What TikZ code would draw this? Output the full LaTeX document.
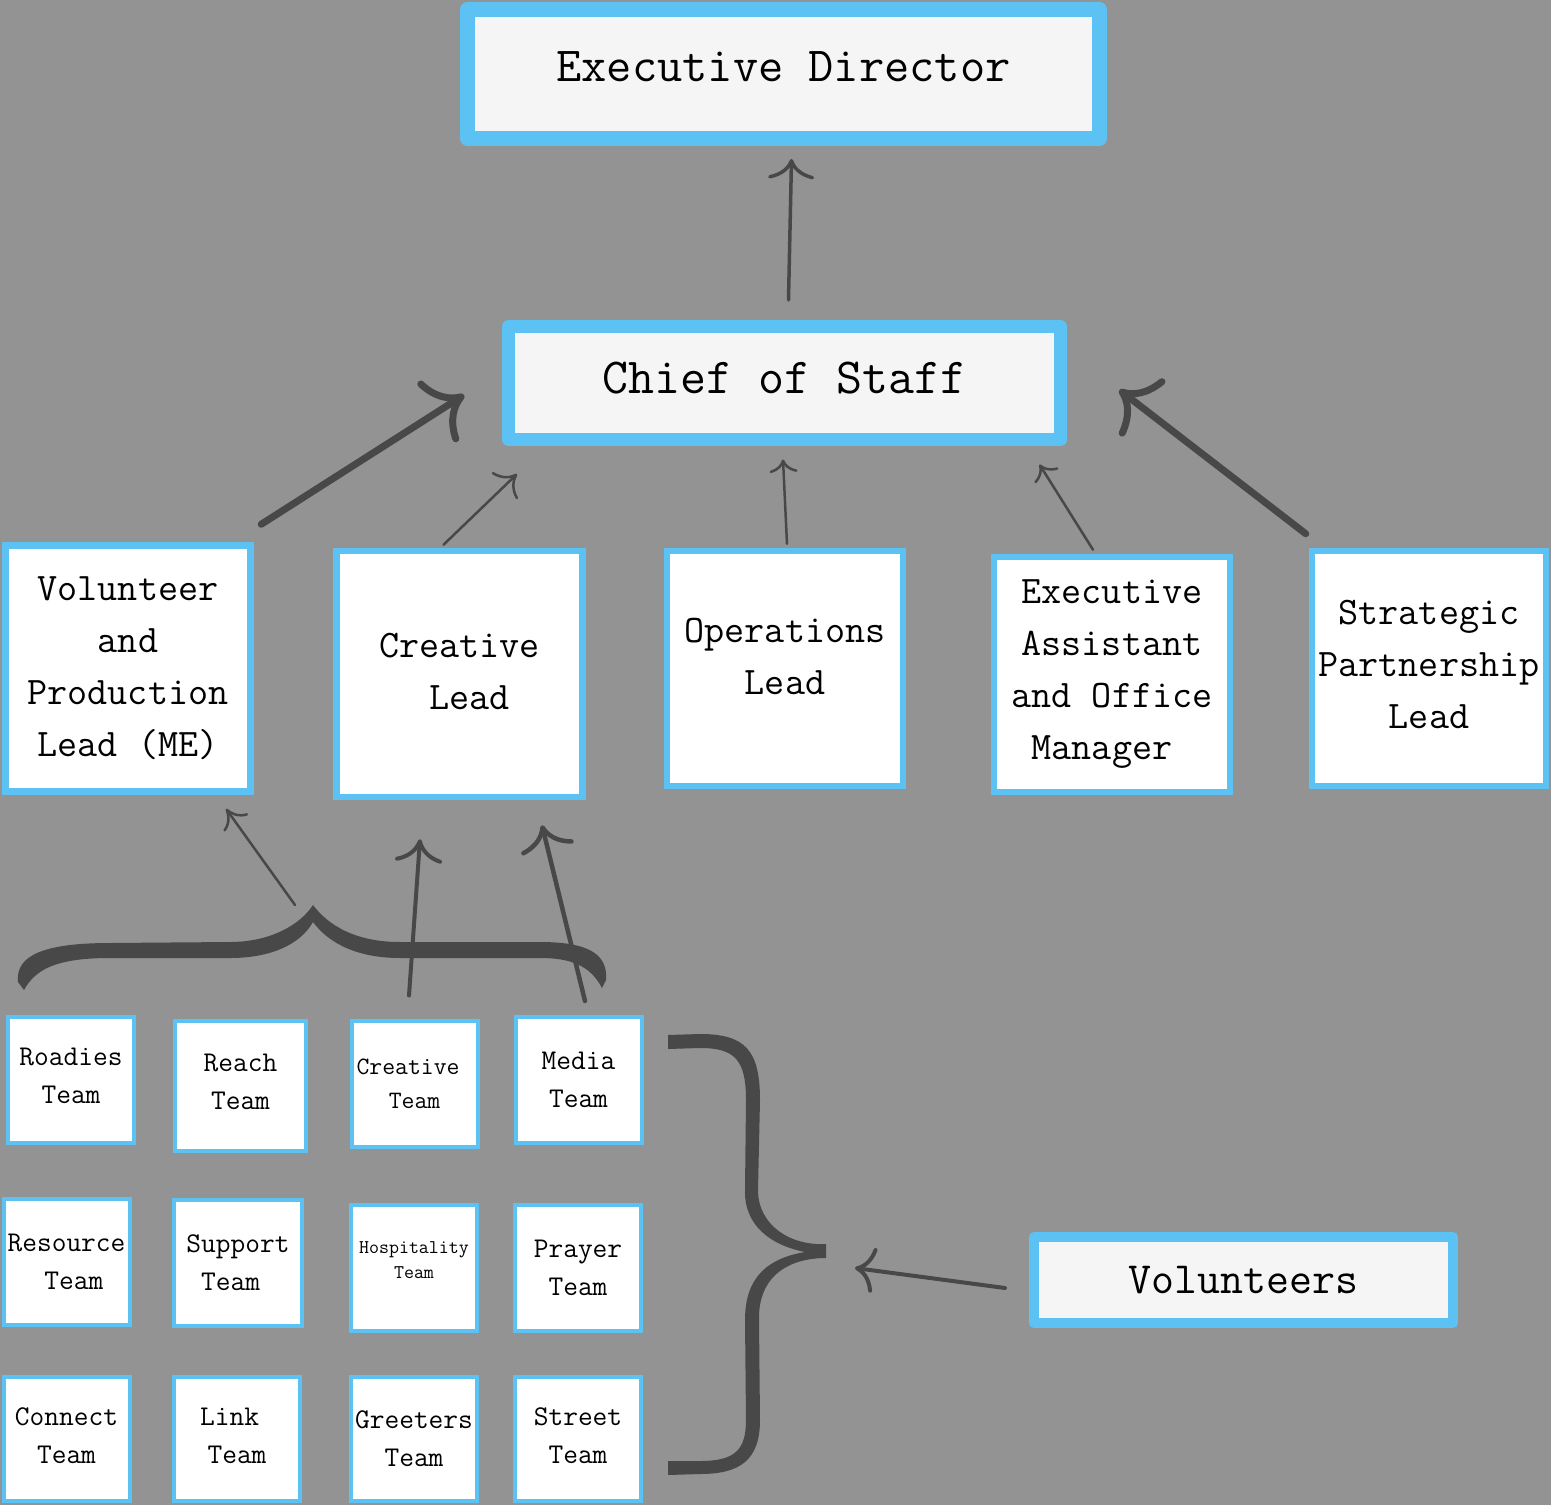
\documentclass[tikz,border=0pt]{standalone}
\usepackage{fontspec}
\usepackage{tikz}
\usetikzlibrary{arrows.meta}
\definecolor{bggray}{RGB}{147,147,147}
\definecolor{skyline}{RGB}{91,194,243}
\definecolor{paper}{RGB}{245,245,245}
\definecolor{ink}{RGB}{72,72,72}
\newcommand{\chartfont}[2]{\ttfamily\addfontfeature{FakeBold=0.6}\fontsize{#1}{#2}\selectfont}

\begin{document}
\begin{tikzpicture}[x=1pt,y=-1pt,
    topbox/.style={draw=skyline, fill=paper, line join=round, inner sep=0pt, font=\chartfont{49}{60}},
    leadbox/.style={draw=skyline, fill=white, line width=6.5pt, inner sep=0pt, align=center, minimum width=236pt, minimum height=235pt, font=\chartfont{39}{52}},
    teambox/.style={draw=skyline, fill=white, line width=4pt, inner sep=0pt, align=center, minimum width=126pt, minimum height=126pt, font=\chartfont{28.6}{38}},
    link/.style={draw=ink, line width=2.5pt, line cap=round}]
    \useasboundingbox (0,0) rectangle (1551,1505);
    \fill[bggray] (0,0) rectangle (1551,1505);

    % Top of the chart
    \node[topbox, line width=15pt, minimum width=632pt, minimum height=129pt, text depth=14pt] (ed) at (783.5,74) {Executive Director};
    \node[topbox, line width=13pt, minimum width=552pt, minimum height=113pt, text depth=10pt, font=\chartfont{50.5}{60}] (cos) at (784.5,383) {Chief of Staff};

    % Leads
    \node[leadbox, minimum width=245pt, minimum height=246pt] (vl) at (128,668.5) {Volunteer\\and\\Production\\Lead (ME)};
    \node[leadbox, minimum width=246pt, minimum height=246pt, text depth=6pt] (cl) at (459.5,674) {Creative\\\hphantom{x}Lead};
    \node[leadbox, text depth=24pt] (ops) at (785,668.5) {Operations\\Lead};
    \node[leadbox] (ea) at (1112,674.5) {Executive\\Assistant\\and Office\\Manager\hphantom{x}};
    \node[leadbox, minimum width=234pt, text depth=8pt] (sp) at (1429,668.5) {Strategic\\Partnership\\Lead};

    % Volunteers
    \node[topbox, line width=10pt, minimum width=419pt, minimum height=86pt, font=\chartfont{44.6}{52}] (vol) at (1243.5,1280) {Volunteers\hspace{16pt}};

    % Teams
    \node[teambox, text depth=8pt] (roadies) at (71,1080) {Roadies\\Team};
    \node[teambox, minimum width=131pt, minimum height=130pt, text depth=8pt] (reach) at (240.5,1086) {Reach\\Team};
    \node[teambox, font=\chartfont{25}{34}] (ctteam) at (414.5,1083.5) {Creative\hphantom{x}\\Team};
    \node[teambox] (media) at (578.5,1080) {Media\\Team};
    \node[teambox] (resource) at (66.5,1262) {Resource\\\hphantom{x}Team};
    \node[teambox, minimum width=128pt] (support) at (238,1262.5) {Support\\Team\hphantom{x}};
    \node[teambox, text depth=16pt, font=\chartfont{19.4}{25}] (hosp) at (414,1268) {Hospitality\\Team};
    \node[teambox] (prayer) at (578,1268) {Prayer\\Team};
    \node[teambox, minimum height=124pt, text depth=6pt] (connect) at (66.5,1439) {Connect\\Team};
    \node[teambox, minimum height=124pt, text depth=6pt] (linkteam) at (237,1439) {Link\hphantom{x}\\Team};
    \node[teambox, minimum height=124pt] (greeters) at (414,1439) {Greeters\\Team};
    \node[teambox, minimum height=124pt, text depth=6pt] (street) at (578,1439) {Street\\Team};

    % Braces
    \fill[ink] (18,982) .. controls (15,955) and (45,943) .. (110,943) -- (230,942)
        .. controls (270,942) and (300,925) .. (313,905) .. controls (328,925) and (355,942) .. (400,942)
        -- (540,942) .. controls (590,942) and (608,955) .. (606,980) -- (602,988)
        .. controls (590,965) and (570,958) .. (540,958) -- (400,958)
        .. controls (360,958) and (330,945) .. (313,922) .. controls (300,945) and (270,958) .. (230,958)
        -- (110,958) .. controls (55,958) and (35,970) .. (24,990) -- cycle;
    \fill[ink] (668,1035) -- (700,1034) .. controls (745,1034) and (760,1050) .. (760,1100)
        -- (758,1190) .. controls (758,1225) and (790,1246) .. (826,1244) -- (826,1258)
        .. controls (790,1258) and (758,1275) .. (759,1320) -- (760,1420)
        .. controls (760,1460) and (740,1474) .. (700,1474) -- (668,1475) -- (668,1461) -- (700,1461)
        .. controls (735,1461) and (746,1450) .. (746,1420) -- (745,1320)
        .. controls (745,1275) and (770,1258) .. (805,1252) .. controls (770,1245) and (744,1225) .. (745,1190)
        -- (746,1100) .. controls (746,1060) and (735,1048) .. (700,1048) -- (668,1049) -- cycle;
    \coordinate (vtip) at (313,905);
    \coordinate (htip) at (826,1252);

    % Arrows up the chart
    \draw[link, line width=3.5pt, -{To[length=20pt,width=46pt]}] ([xshift=4pt,yshift=20pt]cos.north) -- ([xshift=8pt,yshift=-13pt]ed.south);
    \draw[link, line width=7pt, -{To[length=34pt,width=72pt]}] ([xshift=7.5pt,yshift=18pt]vl.north east) -- ([xshift=-38pt,yshift=-12pt]cos.west);
    \draw[link, -{To[length=18pt,width=37pt]}] ([xshift=-16pt,yshift=3pt]cl.north) -- ([xshift=15pt,yshift=-28pt]cos.south west);
    \draw[link, -{To[length=13pt,width=28pt]}] ([xshift=2pt,yshift=4pt]ops.north) -- ([xshift=-1.5pt,yshift=-13.5pt]cos.south);
    \draw[link, -{To[length=14pt,width=28pt]}] ([xshift=-19pt,yshift=4pt]ea.north) -- ([xshift=-27.5pt,yshift=-18.5pt]cos.south east);
    \draw[link, line width=7pt, -{To[length=32pt,width=72pt]}] ([xshift=-3pt,yshift=14pt]sp.north west) -- ([xshift=52.5pt,yshift=-7pt]cos.east);

    % Arrows from the teams
    \draw[link, -{To[length=18pt,width=30pt]}] ([xshift=-18pt]vtip) -- ([xshift=98pt,yshift=-14pt]vl.south);
    \draw[link, line width=4pt, -{To[length=23pt,width=47pt]}] ([xshift=-5.5pt,yshift=23pt]ctteam.north) -- ([xshift=-39.5pt,yshift=-39pt]cl.south);
    \draw[link, line width=4.5pt, -{To[length=25pt,width=54pt]}] ([xshift=6.5pt,yshift=14pt]media.north) -- ([xshift=82.5pt,yshift=-25pt]cl.south);
    \draw[link, line width=4pt, -{To[length=20pt,width=45pt]}] ([xshift=-24pt,yshift=-8pt]vol.west) -- ([xshift=29pt,yshift=-16pt]htip);
\end{tikzpicture}
\end{document}
